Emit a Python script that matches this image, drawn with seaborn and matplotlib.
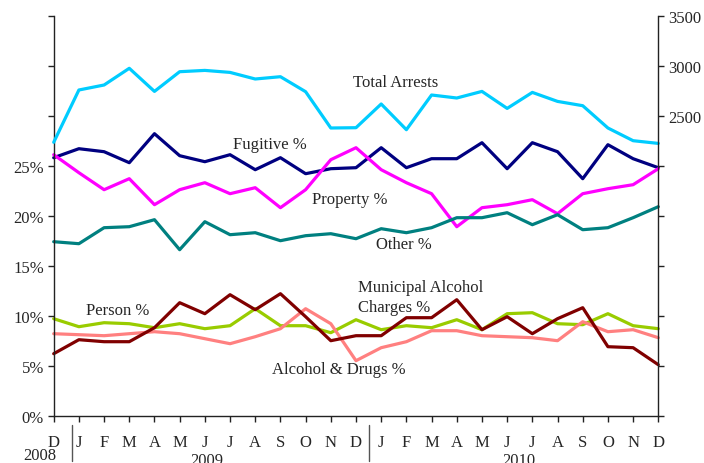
import matplotlib
matplotlib.use("Agg")
import matplotlib.pyplot as plt
import matplotlib.transforms as mtransforms
import seaborn as sns
import pandas as pd
import numpy as np

months = ["D", "J", "F", "M", "A", "M", "J", "J", "A", "S", "O", "N", "D",
          "J", "F", "M", "A", "M", "J", "J", "A", "S", "O", "N", "D"]

total_arrests = [2234, 2757, 2807, 2974, 2743, 2940, 2953, 2933, 2867, 2890, 2740, 2377, 2380,
                 2617, 2360, 2707, 2677, 2743, 2573, 2733, 2643, 2600, 2377, 2250, 2223]
fugitive = [25.8, 26.7, 26.4, 25.3, 28.2, 26.0, 25.4, 26.1, 24.6, 25.8, 24.2, 24.7, 24.8,
            26.8, 24.8, 25.7, 25.7, 27.3, 24.7, 27.3, 26.4, 23.7, 27.1, 25.7, 24.8]
property_pct = [26.1, 24.3, 22.6, 23.7, 21.1, 22.6, 23.3, 22.2, 22.8, 20.8, 22.6, 25.6, 26.8,
                24.6, 23.3, 22.2, 18.9, 20.8, 21.1, 21.6, 20.2, 22.2, 22.7, 23.1, 24.7]
other = [17.4, 17.2, 18.8, 18.9, 19.6, 16.6, 19.4, 18.1, 18.3, 17.5, 18.0, 18.2, 17.7,
         18.7, 18.3, 18.8, 19.8, 19.8, 20.3, 19.1, 20.1, 18.6, 18.8, 19.8, 20.9]
person = [9.7, 8.9, 9.3, 9.2, 8.8, 9.2, 8.7, 9.0, 10.7, 9.0, 9.0, 8.3, 9.6,
          8.6, 9.0, 8.8, 9.6, 8.6, 10.2, 10.3, 9.2, 9.1, 10.2, 9.0, 8.7]
alcohol_drugs = [8.2, 8.1, 8.0, 8.2, 8.4, 8.2, 7.7, 7.2, 7.9, 8.7, 10.7, 9.2, 5.5,
                 6.8, 7.4, 8.5, 8.5, 8.0, 7.9, 7.8, 7.5, 9.4, 8.4, 8.6, 7.8]
municipal = [6.2, 7.6, 7.4, 7.4, 8.8, 11.3, 10.2, 12.1, 10.6, 12.2, 9.9, 7.5, 8.0,
             8.0, 9.8, 9.8, 11.6, 8.6, 9.9, 8.2, 9.7, 10.8, 6.9, 6.8, 5.1]

idx = np.arange(len(months))

sns.set_style("white")
plt.rcParams["font.family"] = ["Liberation Serif", "DejaVu Serif"]
plt.rcParams["font.size"] = 12

fig = plt.figure(figsize=(7.04, 4.64), dpi=100)
ax = fig.add_axes([53.7 / 704, 1 - 416.7 / 464, 604.6 / 704, 400 / 464])
ax2 = ax.twinx()

lw = 2.3
pct_series = [
    (fugitive, "#000080"),
    (property_pct, "#FF00FF"),
    (other, "#008080"),
    (person, "#99CC00"),
    (alcohol_drugs, "#FF8080"),
    (municipal, "#800000"),
]
for vals, col in pct_series:
    sns.lineplot(x=idx, y=vals, ax=ax, color=col, linewidth=lw, clip_on=False)
sns.lineplot(x=idx, y=total_arrests, ax=ax2, color="#00CCFF", linewidth=lw, clip_on=False)

ax.set_xlim(0, 24)
ax.set_ylim(0, 40)
ax2.set_ylim(-500, 3500)
ax.set_yticks(np.arange(0, 41, 5))
ax.set_yticklabels([f"{v}%" if v <= 25 else "" for v in range(0, 41, 5)])
ax2.set_yticks(np.arange(-500, 3501, 500))
ax2.set_yticklabels([str(v) if v >= 2500 else "" for v in range(-500, 3501, 500)])
ax.set_xticks(idx)
ax.set_xticklabels(months)
ax.set_xlabel("")
ax.set_ylabel("")
ax2.set_ylabel("")

for a in (ax, ax2):
    a.spines["top"].set_visible(False)
    for s in a.spines.values():
        s.set_color("#222222")
        s.set_linewidth(1.0)
ax2.spines["left"].set_visible(False)
ax2.spines["bottom"].set_visible(False)
ax.spines["right"].set_visible(False)

ax.tick_params(axis="y", direction="out", length=4, width=1, color="#222222", pad=3, left=True)
ax.tick_params(axis="x", direction="out", length=4, width=1, color="#222222", pad=9, bottom=True)
ax2.tick_params(axis="y", direction="out", length=4, width=1, color="#222222", pad=3, right=True)

# series labels
labels = [
    ("Total Arrests", 11.88, 33.0),
    ("Fugitive %", 7.12, 26.77),
    ("Property %", 10.24, 21.24),
    ("Other %", 12.8, 16.77),
    ("Municipal Alcohol", 12.07, 12.44),
    ("Charges %", 12.07, 10.44),
    ("Person %", 1.27, 10.17),
    ("Alcohol & Drugs %", 8.65, 4.27),
]
for txt, x, y in labels:
    ax.text(x, y, txt, ha="left", va="baseline", fontsize=12)

# year labels and separators
trans = mtransforms.blended_transform_factory(ax.transData, ax.transAxes)
for yr, x, y in [("2008", -0.54, -0.098), ("2009", 6.09, -0.11), ("2010", 18.47, -0.11)]:
    ax.text(x, y, yr, ha="center", va="center", fontsize=12, transform=trans)
for x in [0.74, 12.52]:
    ax.plot([x, x], [-0.024, -0.113], color="#555555", linewidth=1,
            transform=trans, clip_on=False)

fig.savefig("out.png", dpi=100)
